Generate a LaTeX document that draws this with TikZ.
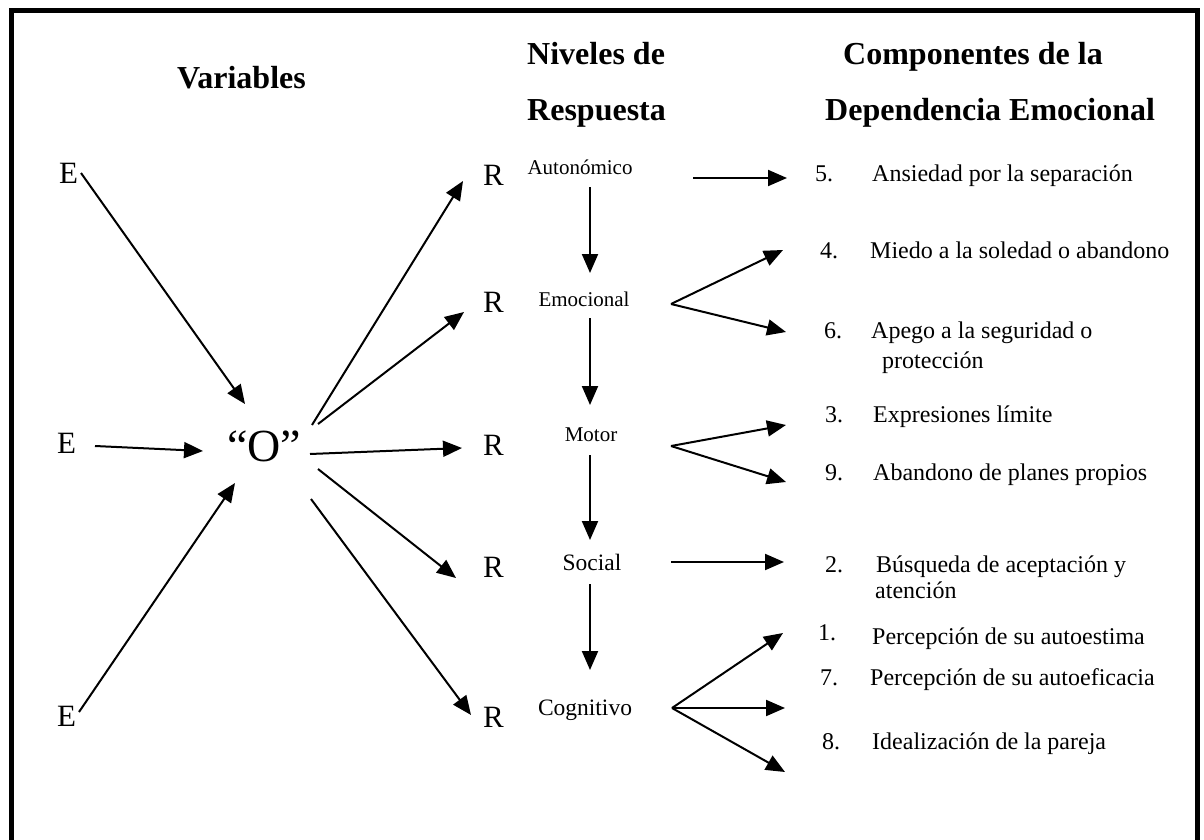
\documentclass[tikz,border=0pt]{standalone}
\usepackage{fontspec}
\setmainfont{Liberation Serif}
\usetikzlibrary{arrows.meta,calc}
\begin{document}
\begin{tikzpicture}[x=1pt,y=-1pt,
  arr/.style={line width=2pt,-{Triangle[length=19pt,width=16pt]}},
  hdr/.style={font=\fontsize{32}{38}\selectfont\bfseries,inner sep=0pt,anchor=base west},
  ev/.style={font=\fontsize{31}{36}\selectfont,inner sep=0pt,anchor=base west},
  ov/.style={font=\fontsize{46}{52}\selectfont,inner sep=0pt,anchor=base west},
  lvl/.style={font=\fontsize{21}{25}\selectfont,inner sep=0pt,anchor=base},
  lvlb/.style={font=\fontsize{23.5}{28}\selectfont,inner sep=0pt,anchor=base},
  itm/.style={font=\fontsize{24}{28}\selectfont,inner sep=0pt,anchor=base west},
]
\useasboundingbox (0,0) rectangle (1204,840);
\fill[white] (0,0) rectangle (1204,840);
\draw[line width=5pt] (11,850) -- (11,10.8) -- (1197.5,10.8) -- (1197.5,850);

% headers
\node[hdr] (hV) at (177,89) {Variables};
\node[hdr] (hN1) at (527,65) {Niveles de};
\node[hdr] (hN2) at (527,121) {Respuesta};
\node[hdr] (hC1) at (843,65) {Componentes de la};
\node[hdr] (hC2) at (825,121) {Dependencia Emocional};

% stimuli, organism, responses
\node[ev] (E1) at (59,183) {E};
\node[ev] (E2) at (57,453) {E};
\node[ev] (E3) at (57,726) {E};
\node[ov] (O) at (227,461) {“O”};
\node[ev] (R1) at (483,185) {R};
\node[ev] (R2) at (483,312) {R};
\node[ev] (R3) at (483,455) {R};
\node[ev] (R4) at (483,577) {R};
\node[ev] (R5) at (483,727) {R};

% levels
\node[lvl] (Aut) at (580,174) {Autonómico};
\node[lvl] (Emo) at (584,306) {Emocional};
\node[lvl] (Mot) at (591,441) {Motor};
\node[lvlb] (Soc) at (592,570) {Social};
\node[lvlb] (Cog) at (585,715) {Cognitivo};

% components
\node[itm] (n5) at (815,181) {5.};
\node[itm] (t5) at (872,181) {Ansiedad por la separación};
\node[itm] (n4) at (820,258) {4.};
\node[itm] (t4) at (870,258) {Miedo a la soledad o abandono};
\node[itm] (n6) at (824,338) {6.};
\node[itm] (t6) at (871,338) {Apego a la seguridad o};
\node[itm] (t6b) at (882,368) {protección};
\node[itm] (n3) at (825,422) {3.};
\node[itm] (t3) at (873,422) {Expresiones límite};
\node[itm] (n9) at (825,480) {9.};
\node[itm] (t9) at (873,480) {Abandono de planes propios};
\node[itm] (n2) at (825,572) {2.};
\node[itm] (t2) at (876,572) {Búsqueda de aceptación y};
\node[itm] (t2b) at (875,598) {atención};
\node[itm] (n1) at (818,640) {1.};
\node[itm] (t1) at (872,644) {Percepción de su autoestima};
\node[itm] (n7) at (820,685) {7.};
\node[itm] (t7) at (870,685) {Percepción de su autoeficacia};
\node[itm] (n8) at (822,749) {8.};
\node[itm] (t8) at (872,749) {Idealización de la pareja};

% E -> O
\draw[arr] ($(E1.base west)+(22,-10)$) -- ($(O.base west)+(18,-57)$);
\draw[arr] ($(E2.base west)+(38,-7)$) -- ($(O.base west)+(-24,-10)$);
\draw[arr] ($(E3.base west)+(22,-14)$) -- ($(O.base west)+(8,22)$);

% O -> R
\draw[arr] ($(O.base west)+(85,-36)$) -- ($(R1.base west)+(-20,-4)$);
\draw[arr] ($(O.base west)+(91,-37)$) -- ($(R2.base west)+(-19,0)$);
\draw[arr] ($(O.base west)+(83,-7)$) -- ($(R3.base west)+(-21,-7)$);
\draw[arr] ($(O.base west)+(91,8)$) -- ($(R4.base west)+(-27,1)$);
\draw[arr] ($(O.base west)+(84,38)$) -- ($(R5.base west)+(-12,-12)$);

% level chain
\draw[arr] ($(Aut.base)+(10,13)$) -- ($(Emo.base)+(6,-33)$);
\draw[arr] ($(Emo.base)+(6,12)$) -- ($(Mot.base)+(-1,-36)$);
\draw[arr] ($(Mot.base)+(-1,14)$) -- ($(Soc.base)+(-2,-30)$);
\draw[arr] ($(Soc.base)+(-2,14)$) -- ($(Cog.base)+(5,-45)$);

% levels -> components
\draw[arr] ($(Aut.base)+(113,4)$) -- ($(n5.base west)+(-28,-3)$);
\coordinate (emoA) at ($(Emo.base)+(87,-2)$);
\draw[arr] (emoA) -- ($(n4.base west)+(-37,-8)$);
\draw[arr] (emoA) -- ($(n6.base west)+(-38,-6)$);
\coordinate (motA) at ($(Mot.base)+(80,5)$);
\draw[arr] (motA) -- ($(n3.base west)+(-39,3)$);
\draw[arr] (motA) -- ($(n9.base west)+(-39,2)$);
\draw[arr] ($(Soc.base)+(79,-8)$) -- ($(n2.base west)+(-41,-10)$);
\coordinate (cogA) at ($(Cog.base)+(87,-7)$);
\draw[arr] (cogA) -- ($(n1.base west)+(-35,-7)$);
\draw[arr] (cogA) -- ($(n7.base west)+(-35,23)$);
\draw[arr] (cogA) -- ($(n8.base west)+(-37,23)$);
\end{tikzpicture}
\end{document}
